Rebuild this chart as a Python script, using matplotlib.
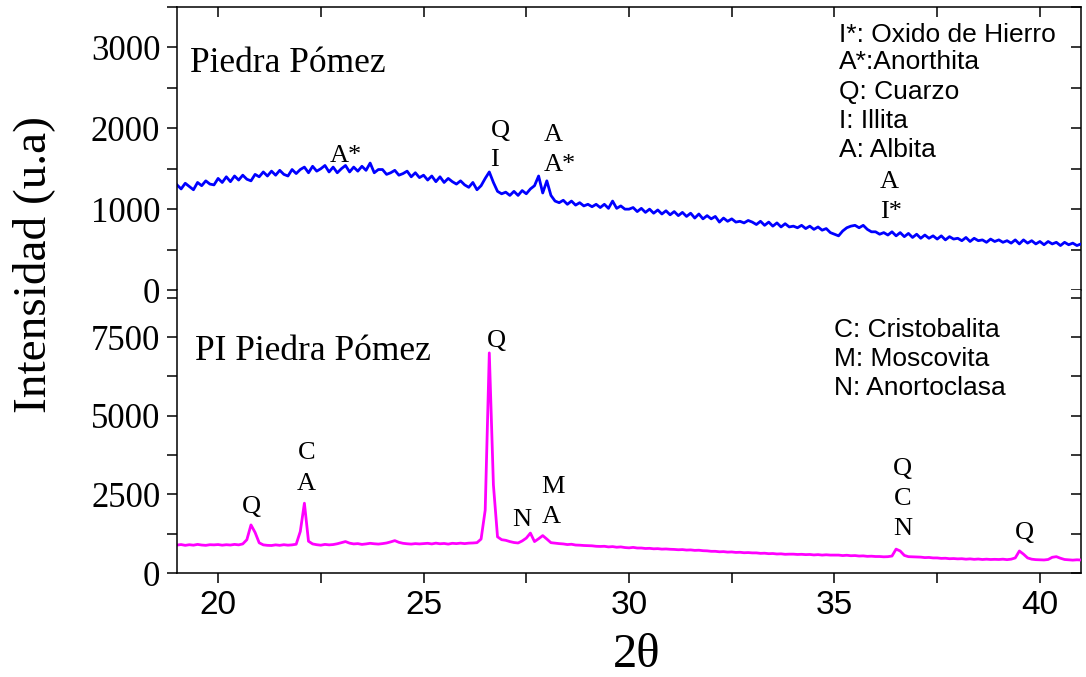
import numpy as np
import matplotlib.pyplot as plt
from matplotlib.ticker import MultipleLocator

# XRD scans, 0.1 deg step from 19 to 41 (2 theta)
two_theta = np.round(np.arange(19.0, 41.05, 0.1), 1)

piedra = [
    1300, 1250, 1320, 1280, 1240, 1330, 1290, 1350, 1310, 1300,
    1380, 1330, 1400, 1340, 1410, 1360, 1420, 1370, 1350, 1430,
    1400, 1460, 1410, 1470, 1420, 1480, 1430, 1410, 1490, 1440,
    1490, 1520, 1450, 1530, 1470, 1500, 1540, 1460, 1520, 1450,
    1500, 1540, 1460, 1520, 1470, 1530, 1480, 1570, 1450, 1490,
    1490, 1430, 1450, 1480, 1420, 1440, 1470, 1400, 1450, 1390,
    1420, 1360, 1410, 1340, 1400, 1330, 1380, 1340, 1310, 1350,
    1300, 1270, 1330, 1240, 1290, 1380, 1460, 1330, 1220, 1190,
    1210, 1170, 1220, 1170, 1230, 1190, 1250, 1290, 1410, 1200,
    1350, 1170, 1100, 1080, 1110, 1060, 1100, 1050, 1080, 1040,
    1060, 1030, 1060, 1020, 1060, 1010, 1100, 1010, 1040, 1000,
    1000, 1020, 970, 1010, 960, 1000, 950, 990, 940, 980,
    930, 970, 920, 960, 910, 950, 890, 940, 880, 920,
    880, 910, 840, 890, 850, 880, 840, 850, 830, 860,
    840, 810, 850, 800, 840, 790, 830, 780, 820, 780,
    790, 770, 800, 760, 790, 750, 780, 740, 760, 710,
    690, 670, 730, 770, 790, 800, 770, 800, 750, 720,
    720, 690, 710, 680, 720, 670, 710, 660, 700, 650,
    690, 640, 680, 640, 670, 630, 670, 620, 660, 630,
    640, 610, 650, 600, 640, 610, 620, 590, 630, 600,
    620, 590, 610, 580, 620, 570, 620, 580, 610, 570,
    600, 560, 600, 570, 590, 550, 590, 560, 580, 550,
    570,
]

pi_piedra = [
    890, 905, 880, 900, 885, 910, 890, 880, 900, 895,
    905, 885, 900, 890, 910, 895, 925, 1060, 1530, 1290,
    960, 895, 880, 875, 895, 880, 900, 885, 895, 915,
    1320, 2220, 1010, 925, 900, 885, 910, 895, 905, 930,
    965, 1000, 950, 925, 935, 910, 925, 945, 930, 920,
    935, 955, 990, 1030, 975, 945, 930, 920, 935, 925,
    935, 945, 925, 950, 930, 940, 920, 945, 935, 950,
    935, 950, 955, 965, 1080, 2000, 7000, 2800, 1150, 1060,
    1040, 1000, 970, 955, 1020, 1110, 1270, 1000, 1090, 1190,
    1080, 965, 950, 935, 925, 905, 915, 890, 885, 875,
    870, 865, 850, 845, 850, 830, 840, 820, 830, 810,
    800, 815, 795, 795, 780, 785, 770, 775, 760, 765,
    755, 750, 740, 745, 730, 735, 720, 725, 710, 705,
    690, 690, 675, 680, 665, 670, 655, 660, 645, 650,
    640, 640, 625, 630, 615, 620, 605, 610, 595, 600,
    600, 590, 595, 585, 590, 575, 585, 570, 580, 570,
    570, 570, 555, 565, 550, 555, 540, 545, 530, 535,
    525, 525, 515, 520, 540, 760, 700, 560, 520, 515,
    510, 505, 490, 495, 480, 480, 465, 470, 455, 460,
    450, 455, 440, 450, 435, 445, 430, 440, 430, 435,
    430, 440, 425, 440, 480, 700, 600, 480, 440, 425,
    420, 415, 430, 500, 520, 470, 430, 420, 410, 420,
    414,
]

# peak labels: (2theta, intensity, text, horizontal alignment)
top_peaks = [
    (23.1, 1580, "A*", "center"),
    (26.63, 1890, "Q", "left"),
    (26.63, 1530, "I", "left"),
    (27.93, 1840, "A", "left"),
    (27.93, 1470, "A*", "left"),
    (36.1, 1260, "A", "left"),
    (36.1, 890, "I*", "left"),
]
bottom_peaks = [
    (20.8, 1910, "Q"),
    (22.15, 3630, "C"),
    (22.15, 2640, "A"),
    (26.78, 7200, "Q"),
    (27.4, 1500, "N"),
    (28.15, 2550, "M"),
    (28.1, 1590, "A"),
    (36.66, 3120, "Q"),
    (36.66, 2170, "C"),
    (36.66, 1210, "N"),
    (39.63, 1080, "Q"),
]
top_legend = ["I*: Oxido de Hierro", "A*:Anorthita", "Q: Cuarzo", "I: Illita", "A: Albita"]
top_legend_y = [3063, 2730, 2359, 2000, 1643]
bottom_legend = ["C: Cristobalita", "M: Moscovita", "N: Anortoclasa"]
bottom_legend_y = [7517, 6593, 5670]

serif = "Liberation Serif"
sans = "Liberation Sans"

fig = plt.figure(figsize=(10.86, 6.77), dpi=100)
ax1 = fig.add_axes([0.163, 0.5716, 0.8324, 0.4181])
ax2 = fig.add_axes([0.163, 0.1536, 0.8324, 0.4180])

ax1.plot(two_theta, piedra, color="#0000ff", lw=2.0)
ax2.plot(two_theta, pi_piedra, color="#ff00ff", lw=2.0)

for ax in (ax1, ax2):
    ax.set_xlim(19, 41)
    for s in ax.spines.values():
        s.set_linewidth(1.1)
    ax.spines["right"].set_visible(False)
    ax.xaxis.set_major_locator(MultipleLocator(5))
    ax.xaxis.set_minor_locator(MultipleLocator(2.5))

ax1.set_ylim(0, 3500)
ax2.set_ylim(0, 9000)
ax1.spines["bottom"].set_visible(False)
ax2.spines["top"].set_visible(False)

ax1.tick_params(axis="x", which="both", bottom=False, top=True, labelbottom=False,
                direction="in", length=7, width=1.1)
ax2.tick_params(axis="x", which="both", direction="out", length=7, width=1.1, pad=5,
                labelsize=24)
ax1.yaxis.set_major_locator(MultipleLocator(1000))
ax1.yaxis.set_minor_locator(MultipleLocator(500))
ax2.yaxis.set_major_locator(MultipleLocator(2500))
ax2.yaxis.set_minor_locator(MultipleLocator(1250))
for ax in (ax1, ax2):
    ax.tick_params(axis="y", which="both", direction="out", length=7, width=1.1, pad=5,
                   labelsize=25)
    for lab in ax.get_yticklabels():
        lab.set_fontfamily(serif)
for lab in ax2.get_xticklabels():
    lab.set_fontfamily(sans)

# right side: inward ticks
for ax, step in ((ax1, 500), (ax2, 1250)):
    sec = ax.secondary_yaxis("right")
    sec.yaxis.set_major_locator(MultipleLocator(step))
    sec.tick_params(direction="in", length=7, width=1.1, labelright=False)
    sec.spines["right"].set_linewidth(1.1)

ax1.text(19.32, 2690, "Piedra Pómez", family=serif, fontsize=25.5, va="baseline")
ax2.text(19.44, 6780, "PI Piedra Pómez", family=serif, fontsize=25.5, va="baseline")

for x, y, t, ha in top_peaks:
    ax1.text(x, y, t, family=serif, fontsize=19, ha=ha, va="baseline")
for x, y, t in bottom_peaks:
    ax2.text(x, y, t, family=serif, fontsize=19, ha="center", va="baseline")

for t, y in zip(top_legend, top_legend_y):
    ax1.text(35.12, y, t, family=sans, fontsize=19, va="baseline")
for t, y in zip(bottom_legend, bottom_legend_y):
    ax2.text(35.0, y, t, family=sans, fontsize=19, va="baseline")

fig.text(0.031, 0.61, "Intensidad (u.a)", family=serif, fontsize=34, rotation=90,
         ha="center", va="center")
fig.text(0.586, 0.032, "2θ", family=serif, fontsize=35, ha="center", va="center")

fig.savefig("out.png", dpi=100)
